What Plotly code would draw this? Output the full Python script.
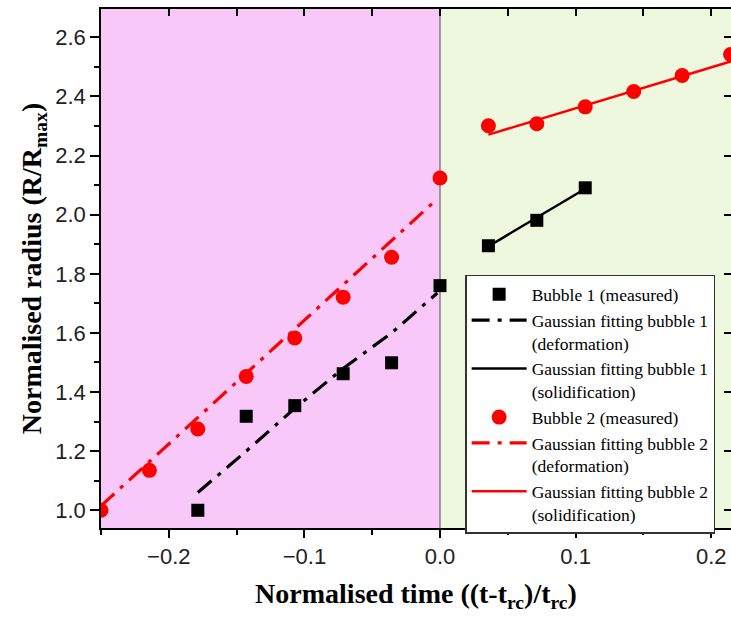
import plotly.graph_objects as go

# ---- data ----
b1_x = [-0.1786, -0.1429, -0.1071, -0.0714, -0.0357, 0.0, 0.0357, 0.0714, 0.1071]
b1_y = [1.000, 1.318, 1.354, 1.462, 1.499, 1.760, 1.895, 1.981, 2.091]

b2_x = [-0.25, -0.2143, -0.1786, -0.1429, -0.1071, -0.0714, -0.0357, 0.0,
        0.0357, 0.0714, 0.1071, 0.1429, 0.1786, 0.2143]
b2_y = [1.000, 1.135, 1.275, 1.453, 1.583, 1.721, 1.856, 2.124,
        2.301, 2.308, 2.365, 2.417, 2.471, 2.542]

fit1_def_x = [-0.1786, -0.1429, -0.1071, -0.0714, -0.0357, -0.002]
fit1_def_y = [1.060, 1.200, 1.345, 1.480, 1.600, 1.735]
fit1_sol_x = [0.0357, 0.0714, 0.1071]
fit1_sol_y = [1.893, 1.990, 2.088]

fit2_def_x = [-0.25, -0.004]
fit2_def_y = [1.015, 2.045]
fit2_sol_x = [0.0357, 0.25]
fit2_sol_y = [2.271, 2.568]

x_range = [-0.25, 0.2146]
y_range = [0.94, 2.696]

SERIF = "Liberation Serif"
SANS = "Liberation Sans"
DASHDOT = "18px,8px,4px,8px"

fig = go.Figure()

fig.add_trace(go.Scatter(x=b1_x, y=b1_y, mode="markers", name="Bubble 1 (measured)",
                         marker=dict(symbol="square", size=13, color="black")))
fig.add_trace(go.Scatter(x=fit1_def_x, y=fit1_def_y, mode="lines",
                         name="Gaussian fitting bubble 1<br>(deformation)",
                         line=dict(color="black", width=3.2, dash=DASHDOT)))
fig.add_trace(go.Scatter(x=fit1_sol_x, y=fit1_sol_y, mode="lines",
                         name="Gaussian fitting bubble 1<br>(solidification)",
                         line=dict(color="black", width=2.5)))
fig.add_trace(go.Scatter(x=b2_x, y=b2_y, mode="markers", name="Bubble 2 (measured)",
                         marker=dict(symbol="circle", size=15, color="#ff0000")))
fig.add_trace(go.Scatter(x=fit2_def_x, y=fit2_def_y, mode="lines",
                         name="Gaussian fitting bubble 2<br>(deformation)",
                         line=dict(color="#ff0000", width=3.2, dash=DASHDOT)))
fig.add_trace(go.Scatter(x=fit2_sol_x, y=fit2_sol_y, mode="lines",
                         name="Gaussian fitting bubble 2<br>(solidification)",
                         line=dict(color="#ff0000", width=2.5)))
# invisible trace to anchor mirror axes
fig.add_trace(go.Scatter(x=[x_range[0]], y=[y_range[0]], xaxis="x2", yaxis="y2",
                         mode="markers", marker=dict(opacity=0), showlegend=False,
                         hoverinfo="skip"))

# background regions
fig.add_shape(type="rect", xref="x", yref="paper", x0=-0.25, x1=0.0, y0=0, y1=1,
              fillcolor="rgb(248,200,248)", line=dict(width=0), layer="below")
fig.add_shape(type="rect", xref="x", yref="paper", x0=0.0, x1=0.3, y0=0, y1=1,
              fillcolor="rgb(237,248,223)", line=dict(width=0), layer="below")
fig.add_shape(type="line", xref="x", yref="paper", x0=0.0, x1=0.0, y0=0, y1=1,
              line=dict(color="#808080", width=1.5), layer="below")

tickfont = dict(family=SANS, size=22, color="#222222")

fig.update_layout(
    width=731, height=622,
    margin=dict(l=101, r=0, t=9, b=94),
    paper_bgcolor="white", plot_bgcolor="white",
    showlegend=True,
    legend=dict(x=0.578, y=0.4875, xanchor="left", yanchor="top",
                bgcolor="white", bordercolor="#333333", borderwidth=1.5,
                font=dict(family=SERIF, size=17.5, color="black"),
                valign="top", tracegroupgap=0, itemwidth=55),
    xaxis=dict(range=x_range, showgrid=False, zeroline=False,
               showline=True, linecolor="black", linewidth=1.5,
               ticks="outside", ticklen=8, tickwidth=1.5, tickcolor="black",
               dtick=0.1, tick0=0, tickformat=".1f", tickfont=tickfont,
               minor=dict(dtick=0.05, tick0=0, ticks="outside", ticklen=5,
                          tickwidth=1.5, tickcolor="black", showgrid=False),
               title=dict(text="<b>Normalised time ((t-t<sub>rc</sub>)/t<sub>rc</sub>)</b>",
                          font=dict(family=SERIF, size=28, color="black"),
                          standoff=15)),
    yaxis=dict(range=y_range, showgrid=False, zeroline=False,
               showline=True, linecolor="black", linewidth=1.5,
               ticks="outside", ticklen=9, tickwidth=1.5, tickcolor="black",
               dtick=0.2, tick0=0, tickformat=".1f", tickfont=tickfont,
               minor=dict(dtick=0.1, tick0=0, ticks="outside", ticklen=5,
                          tickwidth=1.5, tickcolor="black", showgrid=False),
               title=dict(text="<b>Normalised radius (R/R<sub>max</sub>)</b>",
                          font=dict(family=SERIF, size=28, color="black"),
                          standoff=5)),
    xaxis2=dict(range=x_range, overlaying="x", side="top", anchor="y",
                showgrid=False, zeroline=False, showline=True, linecolor="black",
                linewidth=1.5, ticks="inside", ticklen=7, tickwidth=1.5,
                tickcolor="black", dtick=0.05, tick0=0, showticklabels=False),
    yaxis2=dict(range=y_range, overlaying="y", side="right", anchor="x",
                showgrid=False, zeroline=False, showline=False,
                ticks="inside", ticklen=7, tickwidth=1.5, tickcolor="black",
                dtick=0.2, tick0=0, showticklabels=False),
)

fig.write_html("out.html")
